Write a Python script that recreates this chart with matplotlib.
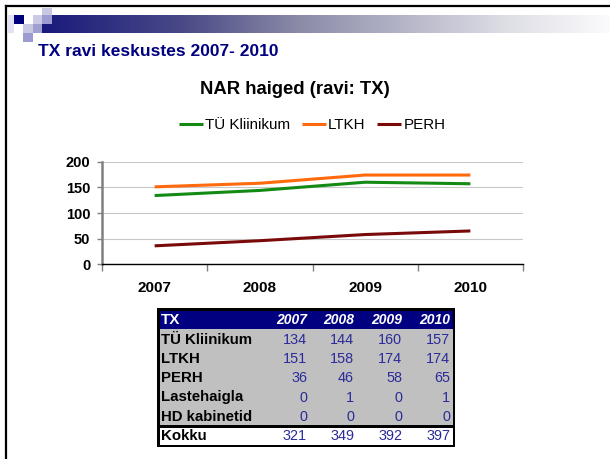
import matplotlib.pyplot as plt
import numpy as np
from matplotlib.patches import Rectangle
from matplotlib.lines import Line2D
from matplotlib.colors import LinearSegmentedColormap

plt.rcParams['font.family'] = ['Liberation Sans', 'DejaVu Sans']

W, H = 610, 459

years = ['2007', '2008', '2009', '2010']
centres = ['TÜ Kliinikum', 'LTKH', 'PERH', 'Lastehaigla', 'HD kabinetid']
tx_values = [
    [134, 144, 160, 157],
    [151, 158, 174, 174],
    [36, 46, 58, 65],
    [0, 1, 0, 1],
    [0, 0, 0, 0],
]
totals = [321, 349, 392, 397]
plotted = ['TÜ Kliinikum', 'LTKH', 'PERH']
line_colors = ['#138a13', '#ff6a0d', '#7a0a0a']
yticks = [0, 50, 100, 150, 200]


def box(x0, y0, x1, y1):
    # pixel box (top-left origin) -> figure fraction rect
    return [x0 / W, 1 - y1 / H, (x1 - x0) / W, (y1 - y0) / H]


fig = plt.figure(figsize=(W / 100, H / 100), dpi=100)

# slide frame
fig.add_artist(Line2D([5.5 / W, 5.5 / W], [0, 1 - 5.5 / H], color='black', lw=1.6))
fig.add_artist(Line2D([5.5 / W, 1], [1 - 5.5 / H, 1 - 5.5 / H], color='black', lw=1.6))

# header gradient bar
gax = fig.add_axes(box(42, 15, 610, 33))
cmap = LinearSegmentedColormap.from_list(
    'bar', [(0, '#1a1a7c'), (0.25, '#4a4a88'), (0.45, '#8a8aa8'),
            (0.65, '#b8b8ca'), (0.82, '#dedee6'), (1, '#fbfbfc')])
gax.imshow(np.linspace(0, 1, 256)[None, :], aspect='auto', cmap=cmap)
gax.axis('off')

squares = [
    (8, 15, 14, 33, '#e2e2f2'),
    (14, 15, 24, 24, '#00007e'),
    (33, 15, 42, 24, '#cacae6'),
    (42, 8, 52, 15, '#c8c8e4'),
    (42, 15, 52, 24, '#9c9cd0'),
    (23, 24, 33, 33, '#c8c8e4'),
    (33, 24, 42, 33, '#a0a0d0'),
    (23, 33, 33, 42, '#9c9cd0'),
]
for x0, y0, x1, y1, c in squares:
    r = box(x0, y0, x1, y1)
    fig.add_artist(Rectangle((r[0], r[1]), r[2], r[3], transform=fig.transFigure,
                             facecolor=c, edgecolor='none'))

fig.text(38 / W, 1 - 51 / H, 'TX ravi keskustes 2007- 2010', color='#000080',
         fontsize=12.5, fontweight='bold', va='center', ha='left')

# line chart
ax = fig.add_axes(box(102, 161.7, 523, 264.3))
x = np.arange(len(years))
for name, c in zip(plotted, line_colors):
    ax.plot(x, tx_values[centres.index(name)], color=c, lw=2.2,
            solid_capstyle='butt', label=name)
ax.set_xlim(-0.5, len(years) - 0.5)
ax.set_ylim(0, 200)
ax.set_yticks(yticks)
ax.grid(axis='y', color='#c8c8c8', lw=0.8)
ax.set_axisbelow(True)
ax.set_xticks(np.arange(len(years) + 1) - 0.5)
ax.set_xticklabels([])
ax.set_xticks(x, minor=True)
ax.set_xticklabels(years, minor=True, fontweight='bold', fontsize=11)
ax.tick_params(axis='x', which='major', length=5, color='#808080', width=1)
ax.tick_params(axis='x', which='minor', length=0, pad=12)
ax.tick_params(axis='y', length=3.5, color='#808080', width=1, pad=5,
               labelsize=10.5)
for lab in ax.get_yticklabels():
    lab.set_fontweight('bold')
for s in ['top', 'right']:
    ax.spines[s].set_visible(False)
ax.spines['left'].set_color('#808080')
ax.spines['left'].set_linewidth(1.8)
ax.spines['bottom'].set_color('black')
ax.spines['bottom'].set_linewidth(1)

fig.text(295 / W, 1 - 90 / H, 'NAR haiged (ravi: TX)', fontsize=13.3,
         fontweight='bold', ha='center', va='center')
handles, labels = ax.get_legend_handles_labels()
fig.legend(handles, labels, loc='center', bbox_to_anchor=(312 / W, 1 - 125 / H),
           ncol=3, frameon=False, fontsize=10.9, handlelength=1.6,
           handletextpad=0.15, columnspacing=0.75)

# data table
tax = fig.add_axes(box(157, 308, 455, 447))
tax.set_xlim(0, 298)
tax.set_ylim(139, 0)
tax.axis('off')
tax.add_patch(Rectangle((0, 0), 298, 139, facecolor='black', edgecolor='none'))
tax.add_patch(Rectangle((2.5, 2.5), 293, 18.5, facecolor='#000080', edgecolor='none'))
tax.add_patch(Rectangle((2.5, 21), 293, 96, facecolor='#c0c0c0', edgecolor='none'))
tax.add_patch(Rectangle((2.5, 120), 293, 16.5, facecolor='white', edgecolor='none'))

col_right = [150, 197, 245, 293]
row_y = [32, 51, 70, 89.5, 108.7]
tax.text(4, 12, 'TX', color='white', fontweight='bold', fontsize=11, va='center')
for xr, yr in zip(col_right, years):
    tax.text(xr, 12, yr, color='white', fontweight='bold', style='italic',
             fontsize=10, ha='right', va='center')
for yy, name, vals in zip(row_y, centres, tx_values):
    tax.text(4, yy, name, fontweight='bold', fontsize=10.8, va='center')
    for xr, v in zip(col_right, vals):
        tax.text(xr, yy, str(v), color='#2b2b9a', fontsize=10.4, ha='right',
                 va='center')
tax.text(4, 127.7, 'Kokku', fontweight='bold', fontsize=10.8, va='center')
for xr, v in zip(col_right, totals):
    tax.text(xr, 127.7, str(v), color='#2b2b9a', fontsize=10.4, ha='right',
             va='center')

fig.savefig('out.png', dpi=100)
